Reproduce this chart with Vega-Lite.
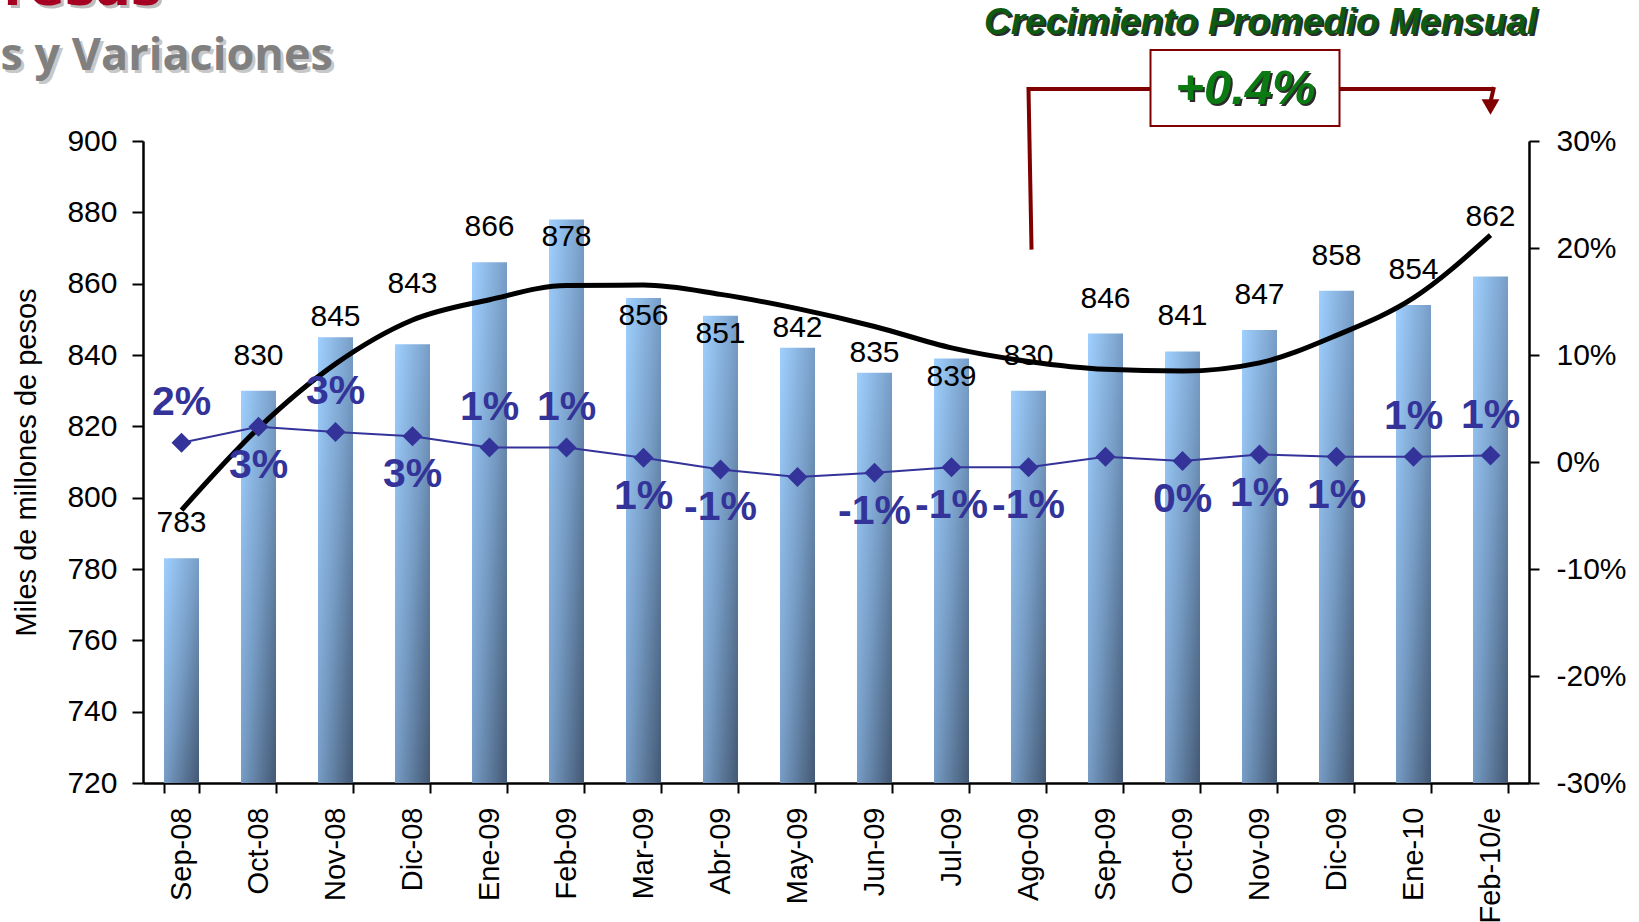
{
  "$schema": "https://vega.github.io/schema/vega-lite/v6.json",
  "width": 1386,
  "height": 642,
  "autosize": {"type": "none"},
  "padding": {"left": 143, "top": 141, "right": 110, "bottom": 139},
  "background": "white",
  "config": {"view": {"stroke": null}, "font": "Liberation Sans"},
  "datasets": {
    "main": [
      {"mes": "Sep-08", "saldo": 783, "tendencia": 796.5, "var": 0.018, "lbl": "2%"},
      {"mes": "Oct-08", "saldo": 830, "tendencia": 819.5, "var": 0.033, "lbl": "3%"},
      {"mes": "Nov-08", "saldo": 845, "tendencia": 837.5, "var": 0.028, "lbl": "3%"},
      {"mes": "Dic-08", "saldo": 843, "tendencia": 849.8, "var": 0.024, "lbl": "3%"},
      {"mes": "Ene-09", "saldo": 866, "tendencia": 855.5, "var": 0.0135, "lbl": "1%"},
      {"mes": "Feb-09", "saldo": 878, "tendencia": 859.5, "var": 0.0135, "lbl": "1%"},
      {"mes": "Mar-09", "saldo": 856, "tendencia": 859.6, "var": 0.004, "lbl": "1%"},
      {"mes": "Abr-09", "saldo": 851, "tendencia": 857.0, "var": -0.007, "lbl": "-1%"},
      {"mes": "May-09", "saldo": 842, "tendencia": 853.0, "var": -0.014, "lbl": null},
      {"mes": "Jun-09", "saldo": 835, "tendencia": 848.0, "var": -0.010, "lbl": "-1%"},
      {"mes": "Jul-09", "saldo": 839, "tendencia": 842.0, "var": -0.005, "lbl": "-1%"},
      {"mes": "Ago-09", "saldo": 830, "tendencia": 838.2, "var": -0.005, "lbl": "-1%"},
      {"mes": "Sep-09", "saldo": 846, "tendencia": 836.0, "var": 0.005, "lbl": null},
      {"mes": "Oct-09", "saldo": 841, "tendencia": 835.5, "var": 0.001, "lbl": "0%"},
      {"mes": "Nov-09", "saldo": 847, "tendencia": 837.8, "var": 0.007, "lbl": "1%"},
      {"mes": "Dic-09", "saldo": 858, "tendencia": 845.5, "var": 0.005, "lbl": "1%"},
      {"mes": "Ene-10", "saldo": 854, "tendencia": 856.0, "var": 0.005, "lbl": "1%"},
      {"mes": "Feb-10/e", "saldo": 862, "tendencia": 873.6, "var": 0.006, "lbl": "1%"}
    ]
  },
  "layer": [
    {
      "data": {"name": "main"},
      "mark": {
        "type": "bar",
        "color": {
          "gradient": "linear", "x1": 0, "y1": 0, "x2": 1, "y2": 1,
          "stops": [
            {"offset": 0, "color": "#a0d0ff"},
            {"offset": 0.5, "color": "#779dc6"},
            {"offset": 1, "color": "#435873"}
          ]
        }
      },
      "encoding": {
        "x": {
          "field": "mes", "type": "ordinal", "sort": null,
          "scale": {"domain": ["Sep-08","Oct-08","Nov-08","Dic-08","Ene-09","Feb-09","Mar-09","Abr-09","May-09","Jun-09","Jul-09","Ago-09","Sep-09","Oct-09","Nov-09","Dic-09","Ene-10","Feb-10/e"], "paddingInner": 0.545, "paddingOuter": 0.2725},
          "axis": {
            "title": null, "labelAngle": -90, "labelAlign": "right", "labelBaseline": "middle",
            "labelFont": "Liberation Sans", "labelFontSize": 29, "labelColor": "black", "labelPadding": 14,
            "tickBand": "extent", "tickSize": 10, "tickWidth": 2, "tickColor": "black",
            "domainColor": "black", "domainWidth": 2.5, "grid": false
          }
        },
        "y": {
          "field": "saldo", "type": "quantitative",
          "scale": {"domain": [720, 900], "nice": false, "zero": false},
          "axis": {
            "orient": "left",
            "title": "Miles de millones de pesos",
            "values": [720, 740, 760, 780, 800, 820, 840, 860, 880, 900],
            "grid": false, "domainColor": "black", "domainWidth": 2.5,
            "tickColor": "black", "tickWidth": 2, "tickSize": 11,
            "labelFont": "Liberation Sans", "labelFontSize": 30, "labelColor": "black", "labelPadding": 15,
            "titleFont": "Liberation Sans", "titleFontSize": 29, "titleFontWeight": "normal", "titleColor": "black",
            "titleX": -117, "titleY": 321, "titleAngle": 270, "titleBaseline": "middle", "titleAlign": "center"
          }
        },
        "y2": {"datum": 720}
      }
    },
    {
      "data": {"name": "main"},
      "mark": {"type": "line", "color": "black", "strokeWidth": 5, "interpolate": "monotone"},
      "encoding": {
        "x": {"field": "mes", "type": "ordinal", "sort": null},
        "y": {"field": "tendencia", "type": "quantitative", "scale": {"domain": [720, 900], "nice": false, "zero": false}, "axis": null}
      }
    },
    {
      "data": {"name": "main"},
      "transform": [{"filter": {"field": "mes", "oneOf": ["Sep-08","Oct-08","Ene-09","Ago-09","Sep-09","Oct-09","Nov-09","Dic-09","Ene-10"]}}],
      "mark": {"type": "text", "font": "Liberation Sans", "fontSize": 30, "color": "black", "baseline": "middle", "dy": -35},
      "encoding": {
        "x": {"field": "mes", "type": "ordinal", "sort": null},
        "y": {"field": "saldo", "type": "quantitative", "scale": {"domain": [720, 900], "nice": false, "zero": false}, "axis": null},
        "text": {"field": "saldo", "type": "quantitative"}
      }
    },
    {
      "data": {"name": "main"},
      "transform": [{"filter": {"field": "mes", "oneOf": ["Nov-08","May-09","Jun-09"]}}],
      "mark": {"type": "text", "font": "Liberation Sans", "fontSize": 30, "color": "black", "baseline": "middle", "dy": -20},
      "encoding": {
        "x": {"field": "mes", "type": "ordinal", "sort": null},
        "y": {"field": "saldo", "type": "quantitative", "scale": {"domain": [720, 900], "nice": false, "zero": false}, "axis": null},
        "text": {"field": "saldo", "type": "quantitative"}
      }
    },
    {
      "data": {"name": "main"},
      "transform": [{"filter": {"field": "mes", "oneOf": ["Feb-09","Mar-09","Abr-09","Jul-09"]}}],
      "mark": {"type": "text", "font": "Liberation Sans", "fontSize": 30, "color": "black", "baseline": "middle", "dy": 18},
      "encoding": {
        "x": {"field": "mes", "type": "ordinal", "sort": null},
        "y": {"field": "saldo", "type": "quantitative", "scale": {"domain": [720, 900], "nice": false, "zero": false}, "axis": null},
        "text": {"field": "saldo", "type": "quantitative"}
      }
    },
    {
      "data": {"name": "main"},
      "transform": [{"filter": {"field": "mes", "oneOf": ["Dic-08","Feb-10/e"]}}],
      "mark": {"type": "text", "font": "Liberation Sans", "fontSize": 30, "color": "black", "baseline": "middle", "dy": -60},
      "encoding": {
        "x": {"field": "mes", "type": "ordinal", "sort": null},
        "y": {"field": "saldo", "type": "quantitative", "scale": {"domain": [720, 900], "nice": false, "zero": false}, "axis": null},
        "text": {"field": "saldo", "type": "quantitative"}
      }
    },
    {
      "data": {"values": [
        {"mes": "Ago-09", "mes2": "Ago-09", "v": 870.1, "v2": 914.6},
        {"mes": "Ago-09", "mes2": "Feb-10/e", "v": 914.6, "v2": 914.6},
        {"mes": "Feb-10/e", "mes2": "Feb-10/e", "v": 914.6, "v2": 911}
      ]},
      "mark": {"type": "rule", "color": "#800000", "strokeWidth": 4, "strokeCap": "square", "xOffset": 3},
      "encoding": {
        "x": {"field": "mes", "type": "ordinal", "sort": null, "bandPosition": 0.5},
        "x2": {"field": "mes2", "bandPosition": 0.5},
        "y": {"field": "v", "type": "quantitative", "scale": {"domain": [720, 900], "nice": false, "zero": false}, "axis": null},
        "y2": {"field": "v2"}
      }
    },
    {
      "data": {"values": [{"mes": "Feb-10/e", "v": 909.5}]},
      "mark": {"type": "point", "shape": "triangle-down", "filled": true, "color": "#800000", "size": 320, "opacity": 1},
      "encoding": {
        "x": {"field": "mes", "type": "ordinal", "sort": null},
        "y": {"field": "v", "type": "quantitative", "scale": {"domain": [720, 900], "nice": false, "zero": false}, "axis": null}
      }
    },
    {
      "data": {"values": [{"mes": "Oct-09", "mes2": "Dic-09", "v": 904.2, "v2": 925.5}]},
      "mark": {"type": "rect", "fill": "white", "stroke": "#800000", "strokeWidth": 2, "xOffset": -32, "x2Offset": 3},
      "encoding": {
        "x": {"field": "mes", "type": "ordinal", "sort": null, "bandPosition": 0.5},
        "x2": {"field": "mes2", "bandPosition": 0.5},
        "y": {"field": "v", "type": "quantitative", "scale": {"domain": [720, 900], "nice": false, "zero": false}, "axis": null},
        "y2": {"field": "v2"}
      }
    },
    {
      "data": {"values": [{"mes": "Nov-09", "v": 914.6, "t": "+0.4%"}]},
      "mark": {"type": "text", "font": "Liberation Sans", "fontWeight": "bold", "fontStyle": "italic", "fontSize": 49, "color": "#2b2b2b", "baseline": "middle", "align": "center", "dx": -12, "dy": 2},
      "encoding": {
        "x": {"field": "mes", "type": "ordinal", "sort": null},
        "y": {"field": "v", "type": "quantitative", "scale": {"domain": [720, 900], "nice": false, "zero": false}, "axis": null},
        "text": {"field": "t"}
      }
    },
    {
      "data": {"values": [{"mes": "Nov-09", "v": 914.6, "t": "+0.4%"}]},
      "mark": {"type": "text", "font": "Liberation Sans", "fontWeight": "bold", "fontStyle": "italic", "fontSize": 49, "color": "#0b7a12", "baseline": "middle", "align": "center", "dx": -14},
      "encoding": {
        "x": {"field": "mes", "type": "ordinal", "sort": null},
        "y": {"field": "v", "type": "quantitative", "scale": {"domain": [720, 900], "nice": false, "zero": false}, "axis": null},
        "text": {"field": "t"}
      }
    },
    {
      "data": {"values": [{"mes": "Nov-09", "v": 933.1, "t": "Crecimiento Promedio Mensual"}]},
      "mark": {"type": "text", "font": "Liberation Sans", "fontWeight": "bold", "fontStyle": "italic", "fontSize": 37, "color": "#2b2b2b", "baseline": "middle", "align": "center", "dx": 3, "dy": 2},
      "encoding": {
        "x": {"field": "mes", "type": "ordinal", "sort": null},
        "y": {"field": "v", "type": "quantitative", "scale": {"domain": [720, 900], "nice": false, "zero": false}, "axis": null},
        "text": {"field": "t"}
      }
    },
    {
      "data": {"values": [{"mes": "Nov-09", "v": 933.1, "t": "Crecimiento Promedio Mensual"}]},
      "mark": {"type": "text", "font": "Liberation Sans", "fontWeight": "bold", "fontStyle": "italic", "fontSize": 37, "color": "#0d5a12", "baseline": "middle", "align": "center", "dx": 1},
      "encoding": {
        "x": {"field": "mes", "type": "ordinal", "sort": null},
        "y": {"field": "v", "type": "quantitative", "scale": {"domain": [720, 900], "nice": false, "zero": false}, "axis": null},
        "text": {"field": "t"}
      }
    },
    {
      "data": {"values": [{"mes": "Sep-08", "v": 919.9, "t": "s y Variaciones"}]},
      "mark": {"type": "text", "font": "Open Sans", "fontWeight": "bold", "fontSize": 45, "color": "#c8c8c8", "baseline": "alphabetic", "align": "left", "dx": -178, "dy": 3},
      "encoding": {
        "x": {"field": "mes", "type": "ordinal", "sort": null},
        "y": {"field": "v", "type": "quantitative", "scale": {"domain": [720, 900], "nice": false, "zero": false}, "axis": null},
        "text": {"field": "t"}
      }
    },
    {
      "data": {"values": [{"mes": "Sep-08", "v": 919.9, "t": "s y Variaciones"}]},
      "mark": {"type": "text", "font": "Open Sans", "fontWeight": "bold", "fontSize": 45, "color": "#808080", "baseline": "alphabetic", "align": "left", "dx": -181},
      "encoding": {
        "x": {"field": "mes", "type": "ordinal", "sort": null},
        "y": {"field": "v", "type": "quantitative", "scale": {"domain": [720, 900], "nice": false, "zero": false}, "axis": null},
        "text": {"field": "t"}
      }
    },
    {
      "data": {"values": [{"mes": "Sep-08", "v": 938.1, "t": "resas"}]},
      "mark": {"type": "text", "font": "DejaVu Sans", "fontWeight": "bold", "fontSize": 52, "color": "#bdbdbd", "baseline": "alphabetic", "align": "right", "dx": -17, "dy": 3},
      "encoding": {
        "x": {"field": "mes", "type": "ordinal", "sort": null},
        "y": {"field": "v", "type": "quantitative", "scale": {"domain": [720, 900], "nice": false, "zero": false}, "axis": null},
        "text": {"field": "t"}
      }
    },
    {
      "data": {"values": [{"mes": "Sep-08", "v": 938.1, "t": "resas"}]},
      "mark": {"type": "text", "font": "DejaVu Sans", "fontWeight": "bold", "fontSize": 52, "color": "#a50021", "baseline": "alphabetic", "align": "right", "dx": -20},
      "encoding": {
        "x": {"field": "mes", "type": "ordinal", "sort": null},
        "y": {"field": "v", "type": "quantitative", "scale": {"domain": [720, 900], "nice": false, "zero": false}, "axis": null},
        "text": {"field": "t"}
      }
    },
    {
      "data": {"name": "main"},
      "mark": {"type": "line", "color": "#333399", "strokeWidth": 2},
      "encoding": {
        "x": {"field": "mes", "type": "ordinal", "sort": null},
        "y": {
          "field": "var", "type": "quantitative",
          "scale": {"domain": [-0.3, 0.3], "nice": false, "zero": false},
          "axis": {
            "orient": "right", "title": null,
            "values": [-0.3, -0.2, -0.1, 0, 0.1, 0.2, 0.3], "format": ".0%",
            "labelExpr": "replace(datum.label, '\u2212', '-')",
            "grid": false, "domainColor": "black", "domainWidth": 2.5,
            "tickColor": "black", "tickWidth": 2, "tickSize": 10,
            "labelFont": "Liberation Sans", "labelFontSize": 30, "labelColor": "black", "labelPadding": 17
          }
        }
      }
    },
    {
      "data": {"name": "main"},
      "mark": {"type": "point", "shape": "diamond", "filled": true, "color": "#333399", "size": 400, "opacity": 1},
      "encoding": {
        "x": {"field": "mes", "type": "ordinal", "sort": null},
        "y": {"field": "var", "type": "quantitative", "scale": {"domain": [-0.3, 0.3], "nice": false, "zero": false}, "axis": null}
      }
    },
    {
      "data": {"name": "main"},
      "transform": [{"filter": {"field": "mes", "oneOf": ["Sep-08","Nov-08","Ene-09","Feb-09","Ene-10","Feb-10/e"]}}],
      "mark": {"type": "text", "font": "Liberation Sans", "fontWeight": "bold", "fontSize": 41, "color": "#333399", "baseline": "middle", "dy": -40},
      "encoding": {
        "x": {"field": "mes", "type": "ordinal", "sort": null},
        "y": {"field": "var", "type": "quantitative", "scale": {"domain": [-0.3, 0.3], "nice": false, "zero": false}, "axis": null},
        "text": {"field": "lbl"}
      }
    },
    {
      "data": {"name": "main"},
      "transform": [{"filter": "datum.lbl != null && indexof(['Sep-08','Nov-08','Ene-09','Feb-09','Ene-10','Feb-10/e'], datum.mes) < 0"}],
      "mark": {"type": "text", "font": "Liberation Sans", "fontWeight": "bold", "fontSize": 41, "color": "#333399", "baseline": "middle", "dy": 39},
      "encoding": {
        "x": {"field": "mes", "type": "ordinal", "sort": null},
        "y": {"field": "var", "type": "quantitative", "scale": {"domain": [-0.3, 0.3], "nice": false, "zero": false}, "axis": null},
        "text": {"field": "lbl"}
      }
    }
  ],
  "resolve": {"scale": {"y": "independent"}, "axis": {"y": "independent"}}
}
